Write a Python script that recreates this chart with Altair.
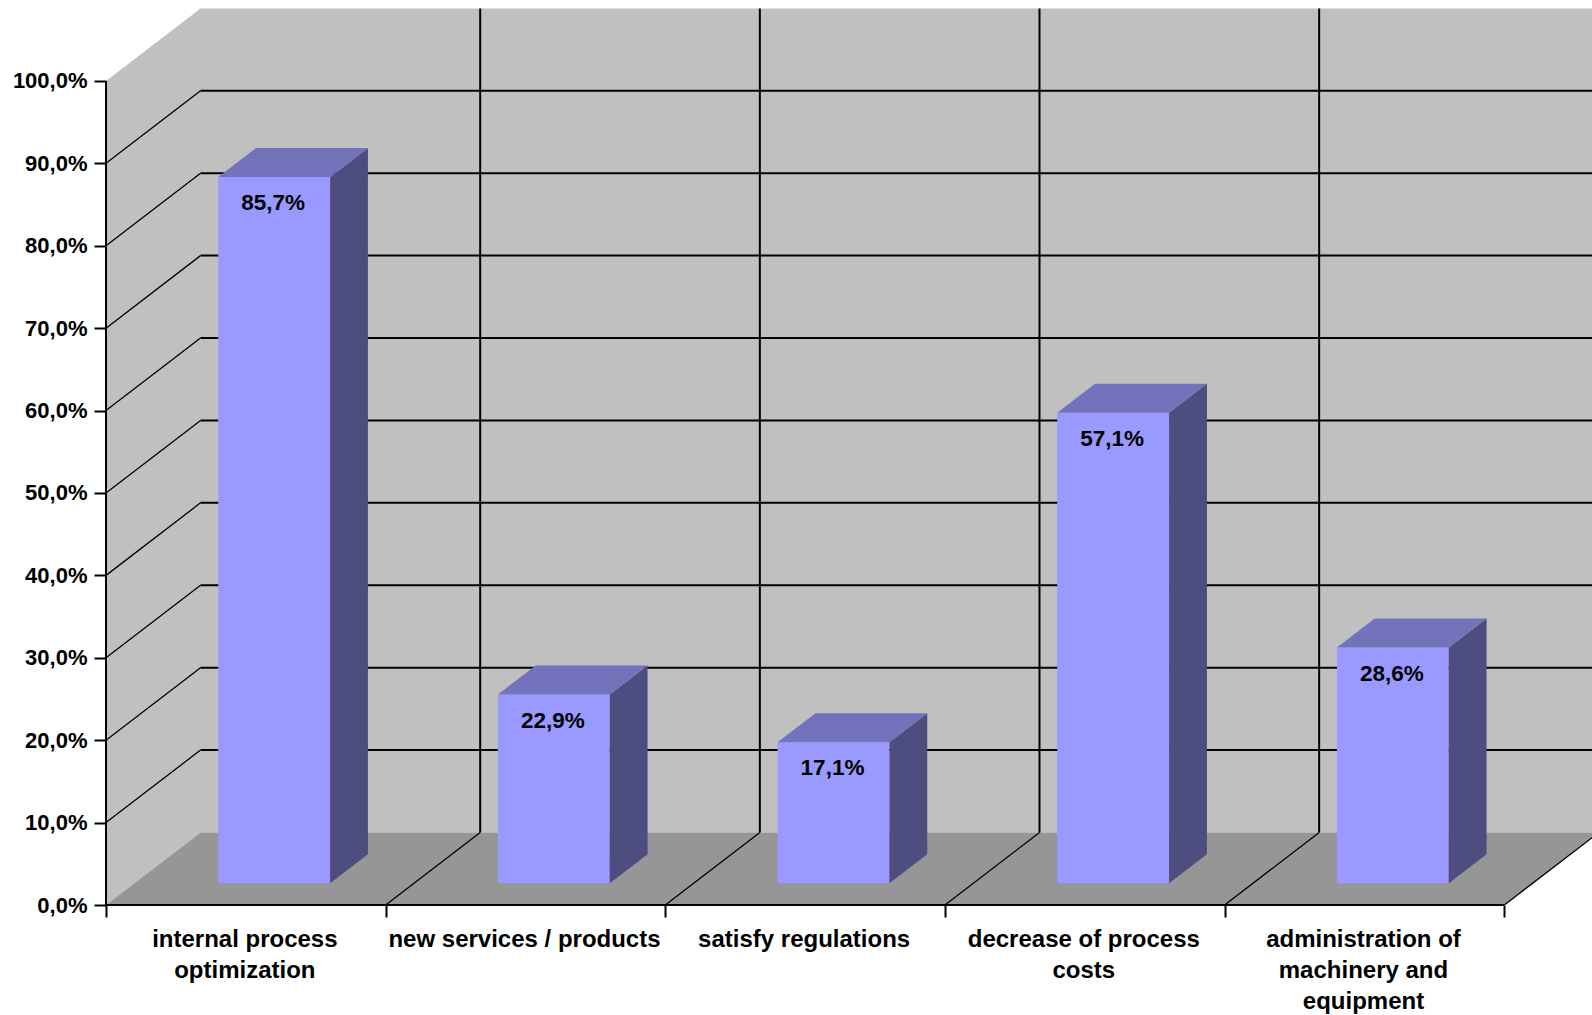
import altair as alt
import pandas as pd

# Chart content
categories = [
    "internal process\noptimization",
    "new services / products",
    "satisfy regulations",
    "decrease of process\ncosts",
    "administration of\nmachinery and\nequipment",
]
values = [85.7, 22.9, 17.1, 57.1, 28.6]
value_labels = ["85,7%", "22,9%", "17,1%", "57,1%", "28,6%"]
y_ticks = [0, 10, 20, 30, 40, 50, 60, 70, 80, 90, 100]
x_edges = [0, 1, 2, 3, 4, 5]

# Colours of the pseudo-3D box
WALL = "#C0C0C0"
FLOOR = "#969696"
FRONT = "#9999FF"
SIDE = "#4D4D80"
TOP = "#7373BC"

# Depth of the box in axis units, and the bars' place inside it
DX = 0.338
DY = 8.8
NEAR, FAR = 0.3, 0.7
GAP = 0.3
N = len(categories)

FONT = "Liberation Sans"
x_scale = alt.Scale(domain=[0, 5.3136], nice=False, zero=False)
y_scale = alt.Scale(domain=[0, 108.97], nice=False, zero=False)
X = alt.X("x:Q", scale=x_scale, axis=None)
Y = alt.Y("y:Q", scale=y_scale, axis=None)


def rules(rows, width, clip=False):
    frame = pd.DataFrame(rows, columns=["x", "x2", "y", "y2"])
    return alt.Chart(frame).mark_rule(color="#000000", strokeWidth=width, clip=clip).encode(
        x=X, x2="x2:Q", y=Y, y2="y2:Q"
    )


# Walls and floor; the back wall tucks slightly under the left one so no seam shows
left_wall = alt.Chart(pd.DataFrame({"x": [0, DX], "y": [0, DY], "y2": [100, 100 + DY]})).mark_area(
    color=WALL, orient="vertical"
).encode(x=X, y=Y, y2="y2:Q")
back_wall = alt.Chart(pd.DataFrame({"x": [DX - 0.004], "x2": [N + DX], "y": [DY], "y2": [100 + DY]})).mark_rect(
    color=WALL, clip=True
).encode(x=X, x2="x2:Q", y=Y, y2="y2:Q")
floor = alt.Chart(pd.DataFrame({"x": [0, DX], "x2": [N, N + DX], "y": [0, DY]})).mark_area(
    color=FLOOR, orient="horizontal", clip=True
).encode(x=X, x2="x2:Q", y=Y)

# Grid lines on the walls and floor
grid_levels = [t for t in y_ticks if 0 < t < 100]
side_grid = rules([[0, DX, t, t + DY] for t in grid_levels], 1.3)
back_grid = rules([[DX, N + DX, t + DY, t + DY] for t in grid_levels], 2, clip=True)
back_verticals = rules([[e + DX, e + DX, DY, 100 + DY] for e in x_edges[1:-1]], 2)
floor_grid = rules([[e, e + DX, 0, DY] for e in x_edges[1:]], 1.3, clip=True)

# Axis ticks and labels; the scales run past the axis, so the lines are drawn as rules
axis_layer = alt.Chart(pd.DataFrame({"x": [0], "y": [0]})).mark_point(opacity=0).encode(
    x=alt.X("x:Q", scale=x_scale, axis=alt.Axis(
        values=x_edges, labels=False, title=None, domain=False, grid=False,
        tickSize=12, tickWidth=2, tickColor="#000000")),
    y=alt.Y("y:Q", scale=y_scale, axis=alt.Axis(
        values=y_ticks, title=None, domain=False, grid=False,
        tickSize=12, tickWidth=2, tickColor="#000000", labelPadding=7,
        labelFont=FONT, labelFontSize=22, labelFontWeight="bold", labelColor="#000000",
        labelExpr="replace(format(datum.value, '.1f'), '.', ',') + '%'")),
)
axis_lines = rules([[0, 0, 0, 100], [0, N, 0, 0]], 2)

# Bars, drawn as front, side and top faces
bars = pd.DataFrame({"i": range(N), "value": values, "label": value_labels, "category": categories})
bars["left"] = bars.i + GAP + NEAR * DX
bars["right"] = bars.i + 1 - GAP + NEAR * DX
bars["base"] = NEAR * DY
bars["head"] = bars.value + NEAR * DY

front = alt.Chart(bars).mark_rect(color=FRONT).encode(
    x=alt.X("left:Q", scale=x_scale, axis=None), x2="right:Q",
    y=alt.Y("base:Q", scale=y_scale, axis=None), y2="head:Q",
)

side_rows, top_rows = [], []
for i, v in enumerate(values):
    for depth in (NEAR, FAR):
        side_rows.append({"bar": i, "x": i + 1 - GAP + depth * DX, "y": depth * DY, "y2": v + depth * DY})
        top_rows.append({"bar": i, "x": i + GAP + depth * DX, "x2": i + 1 - GAP + depth * DX, "y": v + depth * DY})
side = alt.Chart(pd.DataFrame(side_rows)).mark_area(color=SIDE, orient="vertical").encode(
    x=X, y=Y, y2="y2:Q", detail="bar:N"
)
top = alt.Chart(pd.DataFrame(top_rows)).mark_area(color=TOP, orient="horizontal").encode(
    x=X, x2="x2:Q", y=Y, detail="bar:N"
)

# Value labels sit just under each bar's front edge
bars["mid"] = (bars.left + bars.right) / 2
value_text = alt.Chart(bars).mark_text(
    font=FONT, fontSize=22.5, fontWeight="bold", color="#000000", dy=26, dx=-1
).encode(
    x=alt.X("mid:Q", scale=x_scale, axis=None),
    y=alt.Y("head:Q", scale=y_scale, axis=None),
    text="label:N",
)

# Category labels under the floor
bars["centre"] = bars.i + 0.5
bars["zero"] = 0
category_text = alt.Chart(bars).mark_text(
    font=FONT, fontSize=24, fontWeight="bold", color="#000000", baseline="top",
    lineBreak="\n", lineHeight=31, dy=23, dx=-1
).encode(
    x=alt.X("centre:Q", scale=x_scale, axis=None),
    y=alt.Y("zero:Q", scale=y_scale, axis=None),
    text="category:N",
)

chart = alt.layer(
    back_wall, left_wall, floor, side_grid, back_grid, back_verticals, floor_grid,
    axis_layer, axis_lines, front, side, top, value_text, category_text,
).resolve_scale(x="shared", y="shared").resolve_axis(x="independent", y="independent").properties(
    width=1486, height=898,
    padding={"left": 106, "top": 7, "right": 0, "bottom": 110},
    autosize=alt.AutoSizeParams(type="none"),
    background="#FFFFFF",
).configure_view(stroke=None)

chart.save("out.html", embed_options={"renderer": "svg", "actions": False})
